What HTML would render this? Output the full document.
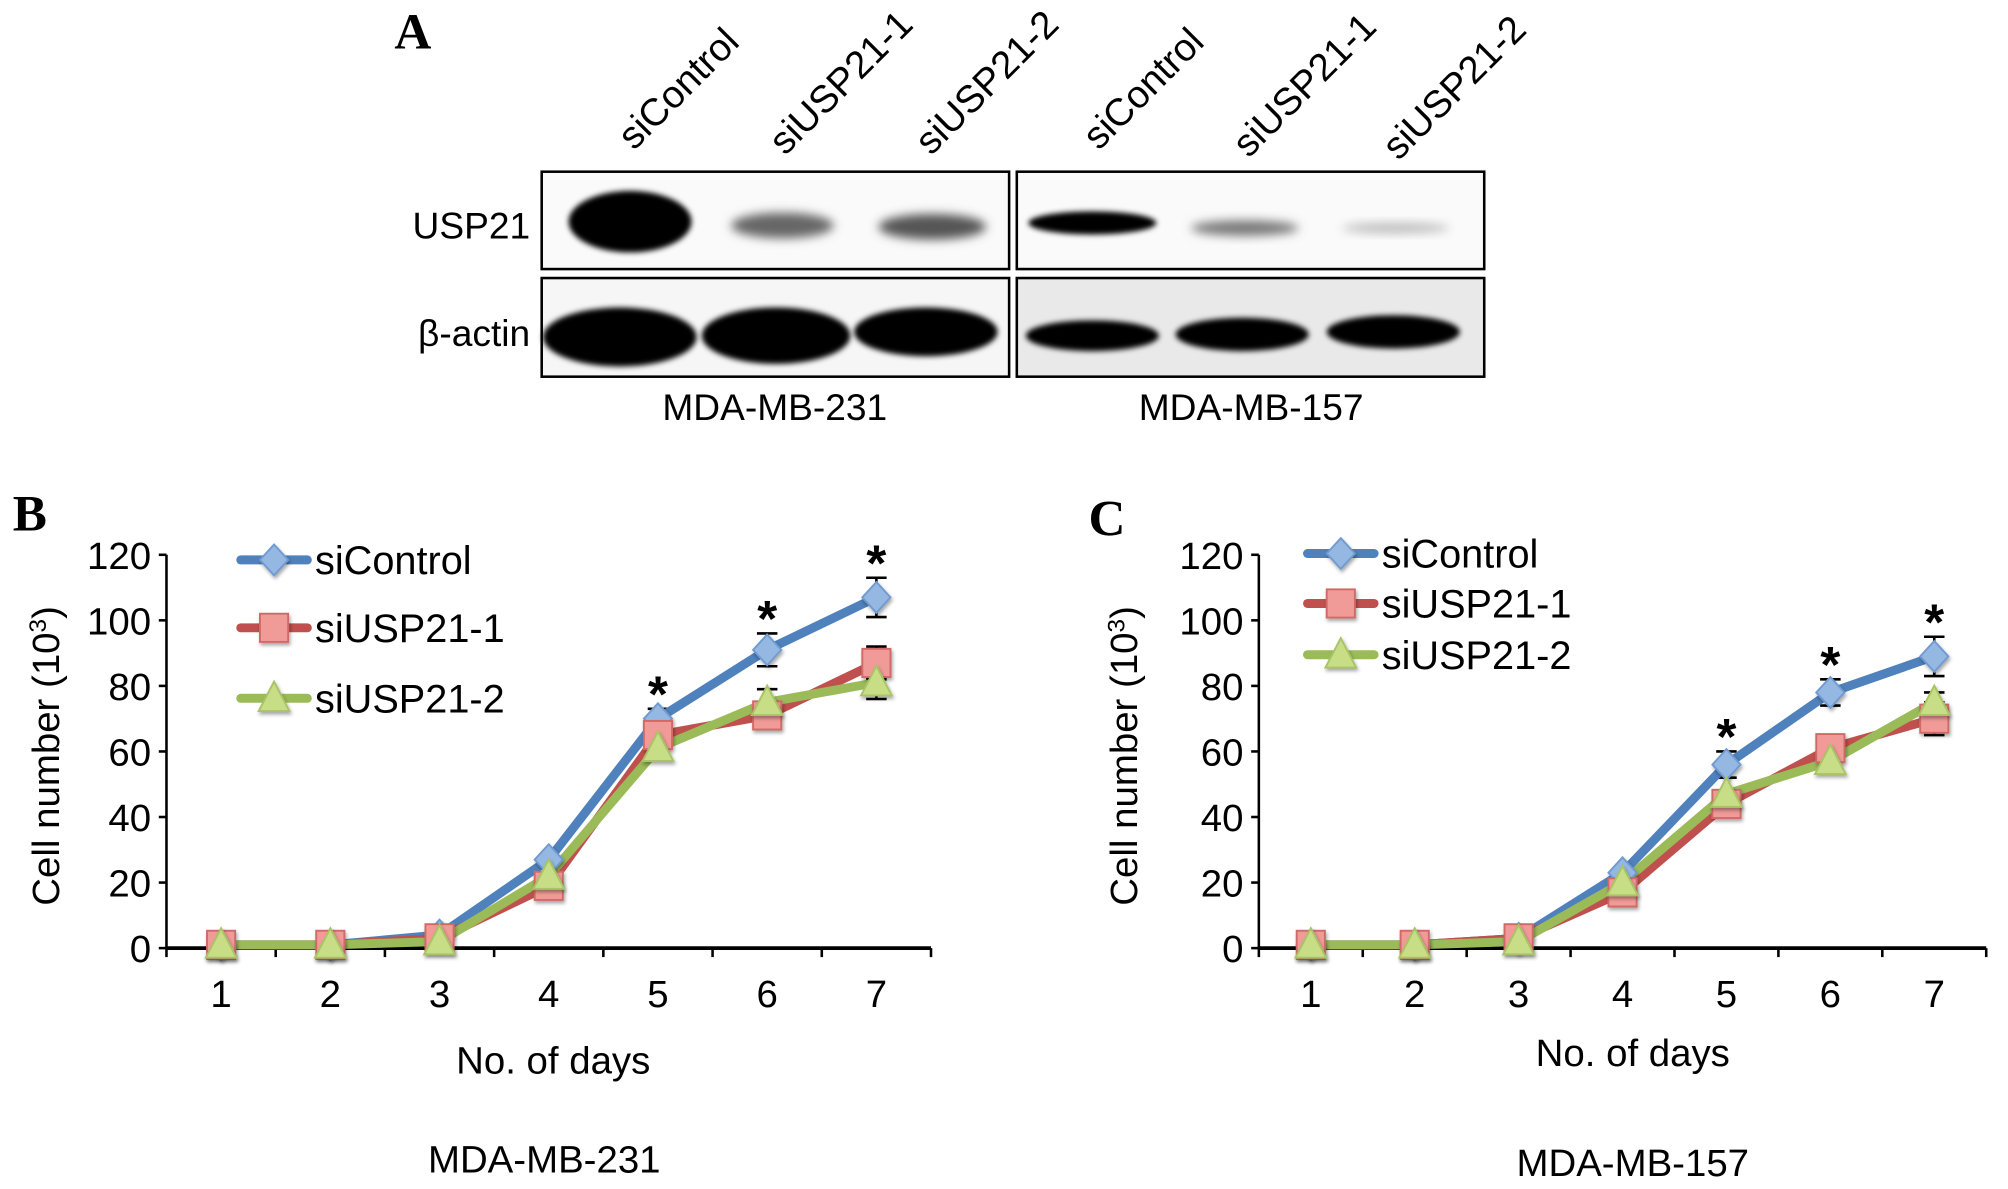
<!DOCTYPE html>
<html><head><meta charset="utf-8">
<style>
html,body{margin:0;padding:0;background:#fff;}
svg{display:block;}
text{font-family:"Liberation Sans Narrow","Liberation Sans",sans-serif;}
.serif{font-family:"Liberation Serif",serif;font-weight:bold;}
</style></head>
<body>
<svg id="fig" width="2008" height="1189" viewBox="0 0 1568 928" preserveAspectRatio="none" xmlns="http://www.w3.org/2000/svg">
<defs>
<filter id="blur" x="-30%" y="-60%" width="160%" height="220%"><feGaussianBlur stdDeviation="4"/></filter>
<filter id="blur2" x="-30%" y="-60%" width="160%" height="220%"><feGaussianBlur stdDeviation="2"/></filter>
<filter id="shadow" x="-50%" y="-50%" width="200%" height="200%"><feDropShadow dx="1" dy="2" stdDeviation="1.5" flood-color="#000" flood-opacity="0.35"/></filter>
</defs>
<g>
<text class="serif" x="308" y="38" font-size="40">A</text>
<g font-size="30">
<text transform="translate(495,118) rotate(-45)">siControl</text>
<text transform="translate(613,122) rotate(-45)">siUSP21-1</text>
<text transform="translate(727,122) rotate(-45)">siUSP21-2</text>
<text transform="translate(858,118) rotate(-45)">siControl</text>
<text transform="translate(975,124) rotate(-45)">siUSP21-1</text>
<text transform="translate(1092,126) rotate(-45)">siUSP21-2</text>
</g>
<text x="414" y="186" font-size="29" text-anchor="end">USP21</text>
<text x="414" y="270" font-size="29" text-anchor="end">β-actin</text>
<g>
<rect x="423" y="134" width="365" height="76" fill="#fafafa" stroke="#000" stroke-width="2"/>
<ellipse cx="492" cy="173" rx="48" ry="24" fill="#000" filter="url(#blur2)"/>
<ellipse cx="611" cy="176" rx="40" ry="10" fill="#666" filter="url(#blur)"/>
<ellipse cx="728" cy="177" rx="42" ry="10" fill="#555" filter="url(#blur)"/>
</g>
<g>
<rect x="794" y="134" width="365" height="76" fill="#fafafa" stroke="#000" stroke-width="2"/>
<ellipse cx="853" cy="174" rx="50" ry="9" fill="#000" filter="url(#blur2)"/>
<ellipse cx="972" cy="178" rx="42" ry="6" fill="#777" filter="url(#blur)"/>
<ellipse cx="1090" cy="178" rx="42" ry="4" fill="#bbb" filter="url(#blur)"/>
</g>
<g>
<rect x="423" y="217" width="365" height="77" fill="#f6f6f6" stroke="#000" stroke-width="2"/>
<ellipse cx="484" cy="263" rx="60" ry="23" fill="#000" filter="url(#blur2)"/>
<ellipse cx="606" cy="262" rx="58" ry="22" fill="#000" filter="url(#blur2)"/>
<ellipse cx="723" cy="259" rx="56" ry="19" fill="#000" filter="url(#blur2)"/>
</g>
<g>
<rect x="794" y="217" width="365" height="77" fill="#e9e9e9" stroke="#000" stroke-width="2"/>
<ellipse cx="853" cy="262" rx="52" ry="12" fill="#000" filter="url(#blur2)"/>
<ellipse cx="970" cy="261" rx="52" ry="13" fill="#000" filter="url(#blur2)"/>
<ellipse cx="1088" cy="259" rx="52" ry="13" fill="#000" filter="url(#blur2)"/>
</g>
<text x="605" y="328" font-size="29" text-anchor="middle">MDA-MB-231</text>
<text x="977" y="328" font-size="29" text-anchor="middle">MDA-MB-157</text>
</g>
<g id="chartB"></g>
<g id="chartC"></g>
</svg>
<script>
const days = [1,2,3,4,5,6,7];
const yTicks = [0,20,40,60,80,100,120];
const seriesNames = ["siControl","siUSP21-1","siUSP21-2"];
const b_siControl = [1,1,4,27,70,91,107];
const b_siUSP21_1 = [1,1,3,19,65,71,87];
const b_siUSP21_2 = [1,1,2,22,61,75,81];
const b_err_siControl = [0,0,0,0,3,5,6];
const b_err_siUSP21_1 = [0,0,0,0,0,0,5];
const b_err_siUSP21_2 = [0,0,0,0,0,4,5];
const c_siControl = [1,1,3,23,56,78,89];
const c_siUSP21_1 = [1,1,3,17,44,61,70];
const c_siUSP21_2 = [1,1,2,20,47,57,75];
const c_err_siControl = [0,0,0,0,4,4,6];
const c_err_siUSP21_1 = [0,0,0,0,0,0,5];
const c_err_siUSP21_2 = [0,0,0,0,0,0,3];
const starDays = [5,6,7];

const NS = "http://www.w3.org/2000/svg";
function mk(parent, tag, attrs){const e=document.createElementNS(NS,tag);for(const k in attrs)e.setAttribute(k,attrs[k]);parent.appendChild(e);return e;}

const styles = [
  {line:"#4F81BD", fill:"#95B8E3", stroke:"#6F9AD0", shape:"diamond"},
  {line:"#C0504D", fill:"#F19B98", stroke:"#D06A66", shape:"square"},
  {line:"#9BBB59", fill:"#C7DD86", stroke:"#A8C465", shape:"triangle"}
];

function marker(g, shape, x, y, st){
  let e;
  if(shape==="diamond") e=mk(g,"polygon",{points:`${x},${y-12} ${x+11},${y} ${x},${y+12} ${x-11},${y}`});
  else if(shape==="square") e=mk(g,"rect",{x:x-11,y:y-11,width:22,height:22});
  else e=mk(g,"polygon",{points:`${x},${y-13} ${x+12},${y+10} ${x-12},${y+10}`});
  e.setAttribute("fill",st.fill);e.setAttribute("stroke",st.stroke);e.setAttribute("stroke-width","1.5");e.setAttribute("filter","url(#shadow)");
  return e;
}

function drawChart(g, cfg){
  const x0=cfg.left, x1=cfg.right, yb=740, yt=433;
  const band=(x1-x0)/days.length;
  const xs=d=>x0+band*(d-0.5);
  const ys=v=>yb-(v/120)*(yb-yt);
  const L=mk(g,"text",{x:cfg.letterX,y:cfg.letterY,"font-size":40,class:"serif"});L.textContent=cfg.letter;
  
  
  const ya=mk(g,"line",{x1:x0,y1:yt,x2:x0,y2:yb,stroke:"#000","stroke-width":2});
  
  
  yTicks.forEach(t=>{
    mk(g,"line",{x1:x0-6,y1:ys(t),x2:x0,y2:ys(t),stroke:"#000","stroke-width":2});
    const tx=mk(g,"text",{x:x0-12,y:ys(t)+11,"font-size":30,"text-anchor":"end"});tx.textContent=t;
    
    
  });
  const xa=mk(g,"line",{x1:x0,y1:yb,x2:x1,y2:yb,stroke:"#000","stroke-width":3});
  
  
  for(let i=0;i<=days.length;i++) mk(g,"line",{x1:x0+band*i,y1:yb,x2:x0+band*i,y2:yb+7,stroke:"#000","stroke-width":2});
  days.forEach(d=>{
    const tx=mk(g,"text",{x:xs(d),y:786,"font-size":30,"text-anchor":"middle"});tx.textContent=d;
    
    
  });
  const yt2=mk(g,"text",{transform:`translate(${cfg.yTitleX},590) rotate(-90)`,"font-size":30,"text-anchor":"middle",style:'font-family:"Liberation Sans",sans-serif'});
  yt2.innerHTML='Cell number (10<tspan dy="-10" font-size="19">3</tspan><tspan dy="10">)</tspan>';
  
  
  const xt=mk(g,"text",{x:cfg.xTitleX,y:cfg.xTitleY,"font-size":30,"text-anchor":"middle"});xt.textContent="No. of days";
  
  
  const ct=mk(g,"text",{x:cfg.cellX,y:cfg.cellY,"font-size":30,"text-anchor":"middle"});ct.textContent=cfg.cell;
  
  
  cfg.series.forEach((s,si)=>{
    s.forEach((v,i)=>{const e=cfg.errs[si][i]; if(!e) return;
      const x=xs(days[i]);
      const eg=mk(g,"g",{stroke:"#000","stroke-width":2});
      
      
      mk(eg,"line",{x1:x,y1:ys(v-e),x2:x,y2:ys(v+e)});
      mk(eg,"line",{x1:x-8,y1:ys(v+e),x2:x+8,y2:ys(v+e)});
      mk(eg,"line",{x1:x-8,y1:ys(v-e),x2:x+8,y2:ys(v-e)});
    });
  });
  cfg.series.forEach((s,si)=>{
    const st=styles[si];
    const pl=mk(g,"polyline",{points:s.map((v,i)=>xs(days[i])+","+ys(v)).join(" "),fill:"none",stroke:st.line,"stroke-width":7,"stroke-linejoin":"round"});
    
    
  });
  cfg.series.forEach((s,si)=>{
    s.forEach((v,i)=>{const m=marker(g,styles[si].shape,xs(days[i]),ys(v),styles[si]);
      
      
    });
  });
  starDays.forEach(d=>{
    const i=days.indexOf(d);
    const top=cfg.series[0][i]+cfg.errs[0][i];
    const st=mk(g,"text",{x:xs(d),y:ys(top)+2,"font-size":40,"text-anchor":"middle","font-weight":"bold",style:'font-family:"Liberation Sans",sans-serif'});st.textContent="*";
    
    
  });
  seriesNames.forEach((n,si)=>{
    const st=styles[si];const y=cfg.legY[si];
    const lg=mk(g,"g",{});
    
    
    mk(lg,"line",{x1:cfg.legX,y1:y,x2:cfg.legX+52,y2:y,stroke:st.line,"stroke-width":7,"stroke-linecap":"round"});
    marker(lg,st.shape,cfg.legX+26,y,st);
    const t=mk(lg,"text",{x:cfg.legX+58,y:y+11,"font-size":31});t.textContent=n;
  });
}

drawChart(document.getElementById("chartB"),{left:130,right:727,letter:"B",letterX:10,letterY:414,yTitleX:46,xTitleX:432,xTitleY:838,cell:"MDA-MB-231",cellX:425,cellY:915,
  series:[b_siControl,b_siUSP21_1,b_siUSP21_2],errs:[b_err_siControl,b_err_siUSP21_1,b_err_siUSP21_2],legX:188,legY:[437,490,545]});
drawChart(document.getElementById("chartC"),{left:983,right:1551,letter:"C",letterX:850,letterY:418,yTitleX:888,xTitleX:1275,xTitleY:832,cell:"MDA-MB-157",cellX:1275,cellY:918,
  series:[c_siControl,c_siUSP21_1,c_siUSP21_2],errs:[c_err_siControl,c_err_siUSP21_1,c_err_siUSP21_2],legX:1021,legY:[432,471,511]});
</script>
</body></html>
